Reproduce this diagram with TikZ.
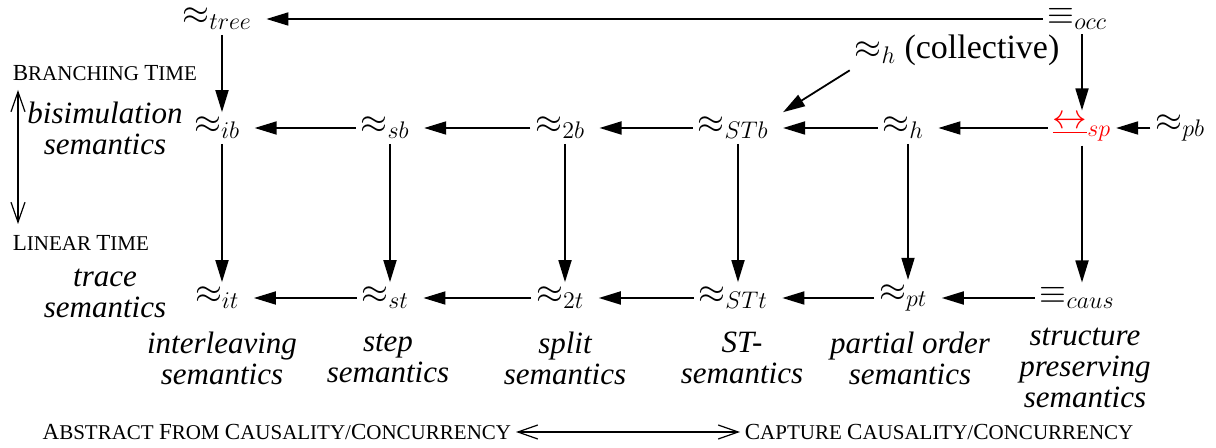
\documentclass[tikz,border=0pt]{standalone}
\usepackage{fontspec}
\setmainfont{Liberation Serif}
\usepackage{amssymb}
\usepackage{amsmath}
\usepackage{xcolor}
\usetikzlibrary{arrows.meta}
\tikzset{every node/.style={inner sep=2pt,font=\fontsize{17}{17}\selectfont}, >={Triangle[length=11pt,width=6.5pt]}}
\tikzset{lbl/.style={font=\fontsize{15.5}{15.5}\selectfont\itshape,align=center},
  caps/.style={font=\fontsize{10.5}{12}\selectfont,inner sep=2pt},
  dbl/.style={<->,>={Straight Barb[length=10pt,width=7pt]},line width=0.6pt}}
\def\impl#1#2{\draw[->] (#1) to (#2);}
\newcommand{\nrel}[4][]{\node[#1] (#2) at (#3) {$#4{}$};}
\newcommand{\bigc}[1]{{\fontsize{11.5}{12}\selectfont #1}}
\begin{document}
\begin{tikzpicture}[x=0.5pt,y=-0.5pt,line width=0.9pt]
    \useasboundingbox (0,0) rectangle (1216,448);
    \nrel{tree}{222,19}{\approx_{tree}}
    \nrel{occ}{1082,19}{\equiv_{occ}} \impl{occ}{tree}

    \nrel{ib}{222,128}{\approx_{ib}} \impl{tree}{ib}
    \nrel{sb}{390,128}{\approx_{sb}} \impl{sb}{ib}
    \nrel{2b}{565,128}{\approx_{2b}} \impl{2b}{sb}
    \nrel{STb}{738,128}{\approx_{STb}} \impl{STb}{2b}
    \nrel{h}{908,128}{\approx_{h}} \impl{h}{STb}
    \nrel{sp}{1082,128}{\textcolor{red}{\underline{\leftrightarrow}_{sp}}} \impl{sp}{h} \impl{occ}{sp}
    \nrel{pb}{1185,128}{\approx_{pb}} \impl{pb}{sp}

    \node (coll) at (957,50) {$\approx_h$ (collective)};
    \draw[->] (coll.south west) -- (STb.north east);

    \nrel{it}{222,298}{\approx_{it}} \impl{ib}{it}
    \nrel{st}{390,298}{\approx_{st}} \impl{sb}{st} \impl{st}{it}
    \nrel{2t}{565,298}{\approx_{2t}} \impl{2b}{2t} \impl{2t}{st}
    \nrel{STt}{738,298}{\approx_{STt}} \impl{STb}{STt} \impl{STt}{2t}
    \nrel{pt}{908,298}{\approx_{pt}} \impl{h}{pt} \impl{pt}{STt}
    \nrel{caus}{1082,298}{\equiv_{caus}} \impl{sp}{caus} \impl{caus}{pt}

    % semantics names
    \node[lbl] (bisim) at (105,128) {bisimulation\\semantics};
    \node[lbl] (trace) at (105,293) {trace\\semantics};
    \node[lbl] (inter) at (222,358) {interleaving\\semantics};
    \node[lbl] (step) at (388,358) {step\\semantics};
    \node[lbl] (split) at (565,358) {split\\semantics};
    \node[lbl] (stsem) at (742,358) {ST-\\semantics};
    \node[lbl] (porder) at (910,358) {partial order\\semantics};
    \node[lbl] (struct) at (1085,368) {structure\\preserving\\semantics};

    % time and causality axes
    \node[caps,anchor=west] (branch) at (8,73) {\bigc{B}RANCHING \bigc{T}IME};
    \node[caps,anchor=west] (linear) at (8,243) {\bigc{L}INEAR \bigc{T}IME};
    \coordinate (btop) at (18,90);
    \coordinate (lbot) at (18,224);
    \draw[dbl] (btop) -- (lbot);
    \node[caps,anchor=east] (abstr) at (516,432) {\bigc{A}BSTRACT \bigc{F}ROM \bigc{C}AUSALITY/\bigc{C}ONCURRENCY};
    \node[caps,anchor=west] (capt) at (740,432) {\bigc{C}APTURE \bigc{C}AUSALITY/\bigc{C}ONCURRENCY};
    \draw[dbl] (abstr) -- (capt);
\end{tikzpicture}
\end{document}
